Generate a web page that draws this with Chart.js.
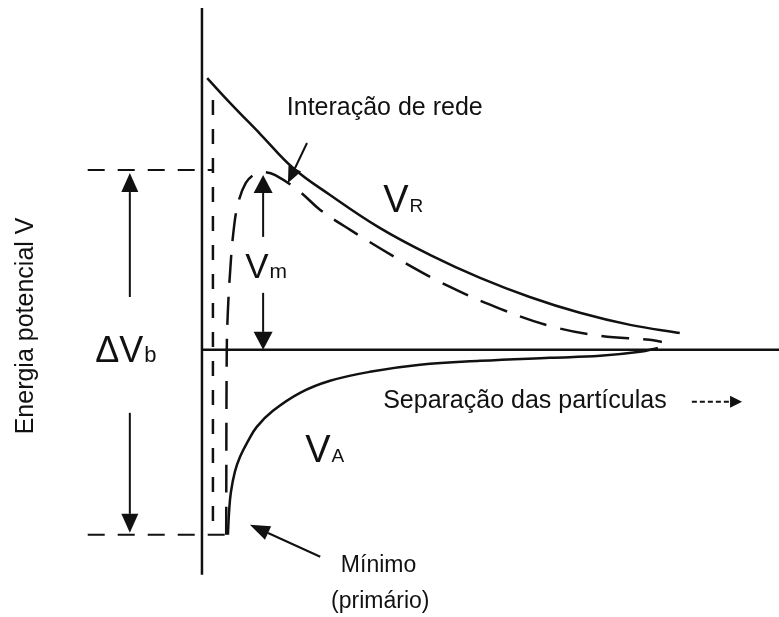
<!DOCTYPE html>
<html lang="pt">
<head>
<meta charset="utf-8">
<title>Energia potencial V</title>
<script src="https://cdn.jsdelivr.net/npm/chart.js@4.4.1/dist/chart.umd.min.js"></script>
<style>
  html, body { margin: 0; padding: 0; background: #fff; }
  #wrap { position: relative; width: 779px; height: 617px; }
</style>
</head>
<body>
<div id="wrap"><canvas id="grafico"></canvas></div>
<script>
// separação das partículas (x) e energia potencial (y), unidades arbitrárias
const curvaVR = [[0.9,151.1],[4.9,137.2],[10.1,120.0],[15.8,101.1],[22.2,86.1],[30.8,67.8],[39.5,52.8],[48.2,40.0],[56.8,29.4],[65.5,20.6],[74.2,13.9],[82.8,9.4]];
const curvaTotal = [[4.2,-102.8],[4.3,0],[4.5,22.2],[4.9,44.4],[5.4,63.9],[6.2,80.6],[7.6,92.8],[9.2,97.8],[10.6,98.9],[12.7,97.2],[17.0,87.8],[20.5,77.8],[25.7,66.7],[34.3,50.0],[43.0,35.0],[51.7,22.8],[60.3,13.3],[69.0,7.8],[77.6,5.6],[79.7,4.4]];
const curvaVA = [[4.5,-102.8],[4.7,-90.0],[5.0,-79.4],[5.7,-67.8],[6.6,-59.4],[8.0,-50.6],[9.5,-42.8],[12.3,-33.9],[17.0,-23.9],[22.2,-17.2],[29.1,-12.2],[37.8,-8.3],[48.2,-6.1],[60.3,-4.4],[69.0,-3.3],[75.9,-1.1],[79.0,1.1]];
const paredeRepulsiva = [[1.9,138.9],[1.9,-100.0]];
const barreira = 100;          // nível do máximo (ΔVb, topo)
const minimoPrimario = -102.8; // nível do mínimo primário

const FONTE = '"Liberation Sans", Arial, sans-serif';

const setas = [
    { de: [-12.5, 29.4], para: [-12.5, 98.3], cab: 19, larg: 17 },
    { de: [-12.5, -35.0], para: [-12.5, -101.7], cab: 19, larg: 17 },
    { de: [10.6, 62.8], para: [10.6, 97.2], cab: 18, larg: 19 },
    { de: [10.6, 31.7], para: [10.6, 0], cab: 18, larg: 19 },
    { de: [18.2, 115.0], para: [14.9, 92.8], cab: 16, larg: 14 },
    { de: [20.5, -115.0], para: [8.3, -97.2], cab: 20, larg: 15 },
    { de: [84.9, -28.9], para: [93.6, -28.9], cab: 12, larg: 12, tracejada: true }
];

const rotulos = [
    { texto: 'Interação de rede', x: 14.7, y: 130.6, tam: 25, alinhar: 'left' },
    { texto: 'Separação das partículas', x: 31.4, y: -32.2, tam: 25, alinhar: 'left' },
    { texto: 'Mínimo', x: 30.6, y: -123.3, tam: 23, alinhar: 'center' },
    { texto: '(primário)', x: 30.9, y: -143.3, tam: 23, alinhar: 'center' },
    { texto: 'Energia potencial V', x: -29.3, y: 13.3, tam: 25, alinhar: 'center', girar: true }
];

const simbolos = [
    { base: 'V', sub: 'R', x: 31.4, y: 76.7, tam: 38, subTam: 19 },
    { base: 'V', sub: 'm', x: 7.5, y: 40.0, tam: 35, subTam: 21 },
    { base: 'V', sub: 'A', x: 17.9, y: -62.2, tam: 38, subTam: 19 },
    { base: 'ΔV', sub: 'b', x: -18.5, y: -6.7, tam: 36, subTam: 22 }
];

function pontos(lista) {
    return lista.map(p => ({ x: p[0], y: p[1] }));
}

function desenhaSeta(ctx, x1, y1, x2, y2, s) {
    const ang = Math.atan2(y2 - y1, x2 - x1);
    const bx = x2 - Math.cos(ang) * s.cab;
    const by = y2 - Math.sin(ang) * s.cab;
    ctx.save();
    ctx.lineWidth = 2;
    if (s.tracejada) ctx.setLineDash([5, 3]);
    ctx.beginPath();
    ctx.moveTo(x1, y1);
    ctx.lineTo(bx, by);
    ctx.stroke();
    ctx.setLineDash([]);
    const nx = -Math.sin(ang) * s.larg / 2;
    const ny = Math.cos(ang) * s.larg / 2;
    ctx.beginPath();
    ctx.moveTo(x2, y2);
    ctx.lineTo(bx + nx, by + ny);
    ctx.lineTo(bx - nx, by - ny);
    ctx.closePath();
    ctx.fill();
    ctx.restore();
}

const anotacoes = {
    id: 'anotacoes',
    afterDatasetsDraw: function(chart) {
        const ctx = chart.ctx;
        const sx = chart.scales.x, sy = chart.scales.y;
        ctx.save();
        ctx.fillStyle = '#111';
        ctx.strokeStyle = '#111';

        setas.forEach(s => {
            desenhaSeta(ctx,
                sx.getPixelForValue(s.de[0]), sy.getPixelForValue(s.de[1]),
                sx.getPixelForValue(s.para[0]), sy.getPixelForValue(s.para[1]), s);
        });

        ctx.textBaseline = 'alphabetic';
        rotulos.forEach(r => {
            const px = sx.getPixelForValue(r.x), py = sy.getPixelForValue(r.y);
            ctx.font = r.tam + 'px ' + FONTE;
            ctx.textAlign = r.alinhar;
            if (r.girar) {
                ctx.save();
                ctx.translate(px, py);
                ctx.rotate(-Math.PI / 2);
                ctx.fillText(r.texto, 0, 0);
                ctx.restore();
            } else {
                ctx.fillText(r.texto, px, py);
            }
        });

        ctx.textAlign = 'left';
        simbolos.forEach(s => {
            const px = sx.getPixelForValue(s.x), py = sy.getPixelForValue(s.y);
            ctx.font = s.tam + 'px ' + FONTE;
            ctx.fillText(s.base, px, py);
            const w = ctx.measureText(s.base).width;
            ctx.font = s.subTam + 'px ' + FONTE;
            ctx.fillText(s.sub, px + w + 1, py);
        });
        ctx.restore();
    }
};

const linha = { showLine: true, pointRadius: 0, borderColor: '#111', fill: false, clip: false };

new Chart(document.getElementById('grafico'), {
    type: 'scatter',
    data: {
        datasets: [
            Object.assign({}, linha, { label: 'eixo V', data: [{ x: 0, y: 190 }, { x: 0, y: -125 }], borderWidth: 2.5 }),
            Object.assign({}, linha, { label: 'eixo separação', data: [{ x: 0, y: 0 }, { x: 100, y: 0 }], borderWidth: 2.5 }),
            Object.assign({}, linha, { label: 'VR', data: pontos(curvaVR), borderWidth: 2.5, tension: 0.4 }),
            Object.assign({}, linha, { label: 'Total', data: pontos(curvaTotal), borderWidth: 2.5, tension: 0.4, borderDash: [28, 14] }),
            Object.assign({}, linha, { label: 'VA', data: pontos(curvaVA), borderWidth: 2.5, tension: 0.4 }),
            Object.assign({}, linha, { label: 'parede', data: pontos(paredeRepulsiva), borderWidth: 2.5, borderDash: [15, 14] }),
            Object.assign({}, linha, { label: 'barreira', data: [{ x: -19.8, y: barreira }, { x: 1.9, y: barreira }], borderWidth: 2, borderDash: [17, 13] }),
            Object.assign({}, linha, { label: 'mínimo', data: [{ x: -19.8, y: minimoPrimario }, { x: 4.2, y: minimoPrimario }], borderWidth: 2, borderDash: [17, 13] })
        ]
    },
    options: {
        responsive: true,
        maintainAspectRatio: false,
        animation: false,
        layout: { padding: 0 },
        scales: {
            x: { type: 'linear', display: false, min: -35, max: 100 },
            y: { type: 'linear', display: false, min: -148.5, max: 194.5 }
        },
        plugins: {
            legend: { display: false },
            tooltip: { enabled: false }
        }
    },
    plugins: [anotacoes]
});
</script>
</body>
</html>
